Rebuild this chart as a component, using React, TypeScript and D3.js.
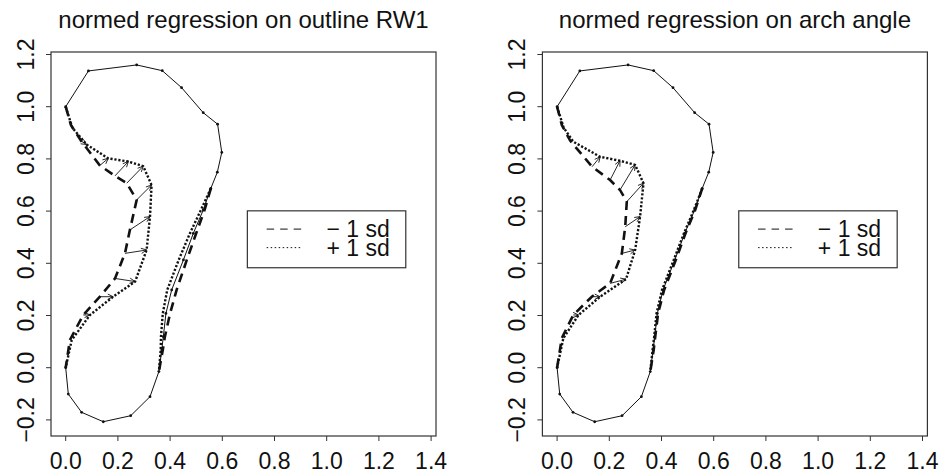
import React from "react";
import * as d3 from "d3";

const W = 947;
const H = 474;

const xTicks = [0, 0.2, 0.4, 0.6, 0.8, 1.0, 1.2, 1.4];
const yTicks = [-0.2, 0, 0.2, 0.4, 0.6, 0.8, 1.0, 1.2];
const titles = ["normed regression on outline RW1", "normed regression on arch angle"];
const legendLabels = ["\u2212 1 sd", "+ 1 sd"];

// mean outline: top arc (shared by both panels)
const topArcX = [0, 0.087, 0.272, 0.37, 0.444, 0.527, 0.582, 0.598, 0.581, 0.556];
const topArcY = [1.0, 1.137, 1.16, 1.138, 1.073, 0.977, 0.933, 0.825, 0.749, 0.687];
// mean outline: bottom arc
const bottomArcX = [0.357, 0.323, 0.249, 0.144, 0.061, 0.01, 0];
const bottomArcY = [-0.015, -0.111, -0.184, -0.207, -0.171, -0.101, 0];
// mean right side
const rightMeanX = [0.556, 0.527, 0.489, 0.451, 0.406, 0.384, 0.374, 0.368, 0.357];
const rightY = [0.687, 0.604, 0.515, 0.413, 0.298, 0.208, 0.119, 0.068, -0.015];

// panel 1 (outline RW1)
const p1RightMinusX = [0.556, 0.532, 0.5, 0.464, 0.425, 0.4, 0.38, 0.372, 0.357];
const p1RightPlusX = [0.556, 0.518, 0.476, 0.433, 0.389, 0.372, 0.365, 0.364, 0.357];
const p1InnerMinusX = [0, 0.02, 0.06, 0.131, 0.189, 0.234, 0.272, 0.246, 0.227, 0.189, 0.131, 0.067, 0.016, 0];
const p1InnerMinusY = [1, 0.93, 0.868, 0.775, 0.735, 0.707, 0.643, 0.528, 0.438, 0.342, 0.272, 0.202, 0.106, 0];
const p1InnerPlusX = [0, 0.025, 0.08, 0.163, 0.24, 0.297, 0.329, 0.323, 0.31, 0.266, 0.182, 0.093, 0.023, 0];
const p1InnerPlusY = [1, 0.92, 0.855, 0.802, 0.79, 0.772, 0.7, 0.579, 0.451, 0.33, 0.272, 0.202, 0.106, 0];

// panel 2 (arch angle)
const p2RightMinusX = [0.556, 0.529, 0.492, 0.455, 0.41, 0.387, 0.376, 0.37, 0.357];
const p2RightPlusX = [0.556, 0.524, 0.486, 0.447, 0.402, 0.381, 0.372, 0.366, 0.357];
const p2InnerMinusX = [0, 0.018, 0.05, 0.134, 0.203, 0.241, 0.267, 0.261, 0.248, 0.203, 0.133, 0.062, 0.018, 0];
const p2InnerMinusY = [1, 0.93, 0.87, 0.77, 0.719, 0.681, 0.636, 0.54, 0.438, 0.323, 0.272, 0.202, 0.113, 0];
const p2InnerPlusX = [0, 0.025, 0.062, 0.165, 0.241, 0.299, 0.331, 0.318, 0.299, 0.264, 0.165, 0.082, 0.024, 0];
const p2InnerPlusY = [1, 0.92, 0.866, 0.808, 0.793, 0.777, 0.707, 0.579, 0.451, 0.339, 0.272, 0.202, 0.113, 0];

const panels = [
  { title: titles[0], rMinus: p1RightMinusX, rPlus: p1RightPlusX, imx: p1InnerMinusX, imy: p1InnerMinusY, ipx: p1InnerPlusX, ipy: p1InnerPlusY, offset: 0 },
  { title: titles[1], rMinus: p2RightMinusX, rPlus: p2RightPlusX, imx: p2InnerMinusX, imy: p2InnerMinusY, ipx: p2InnerPlusX, ipy: p2InnerPlusY, offset: 491.4 },
];

const FONT = "'Liberation Sans', Arial, Helvetica, sans-serif";
const zip = (xs: number[], ys: number[]) => xs.map((x, i) => [x, ys[i]] as [number, number]);
const fmt = (v: number) => (v < 0 ? "\u2212" : "") + Math.abs(v).toFixed(1);

function Panel({ p }: { p: (typeof panels)[0] }) {
  const xs = d3.scaleLinear().domain([0, 1.4]).range([65.7 + p.offset, 431.1 + p.offset]);
  const ys = d3.scaleLinear().domain([-0.2, 1.2]).range([419.9, 54.5]);
  const line = d3.line<[number, number]>().x((d) => xs(d[0])).y((d) => ys(d[1]));

  const boxL = xs(-0.0563), boxR = xs(1.4188), boxT = ys(1.2096), boxB = ys(-0.2617);

  const meanPts = [
    ...zip(topArcX, topArcY),
    ...zip(rightMeanX, rightY).slice(1),
    ...zip(bottomArcX, bottomArcY).slice(1),
  ];
  const minusRight = zip(p.rMinus, rightY);
  const plusRight = zip(p.rPlus, rightY);
  const minusInner = zip(p.imx, p.imy);
  const plusInner = zip(p.ipx, p.ipy);

  const arrows = minusInner
    .map((m, i) => ({ m, q: plusInner[i] }))
    .filter(({ m, q }) => Math.hypot(m[0] - q[0], m[1] - q[1]) > 0.015);

  const lgL = xs(0.696), lgR = xs(1.303), lgT = ys(0.601), lgB = ys(0.383);
  const sx1 = xs(0.77), sx2 = xs(0.904), tx = xs(0.999);
  const row1 = ys(0.531), row2 = ys(0.46);

  return (
    <g>
      <text x={(boxL + boxR) / 2} y={27.5} textAnchor="middle" fontSize={24} fontFamily={FONT} fill="#111">
        {p.title}
      </text>
      <rect x={boxL} y={boxT} width={boxR - boxL} height={boxB - boxT} fill="none" stroke="#333" strokeWidth={1.2} />
      {xTicks.map((t) => (
        <g key={"x" + t}>
          <line x1={xs(t)} x2={xs(t)} y1={boxB} y2={boxB + 5} stroke="#333" strokeWidth={1} />
          <text x={xs(t)} y={469} textAnchor="middle" fontSize={23} fontFamily={FONT} fill="#111">
            {fmt(t)}
          </text>
        </g>
      ))}
      {yTicks.map((t) => (
        <g key={"y" + t}>
          <line x1={boxL} x2={boxL - 5} y1={ys(t)} y2={ys(t)} stroke="#333" strokeWidth={1} />
          <text
            transform={`translate(${p.offset + 33.5},${ys(t)}) rotate(-90)`}
            textAnchor="middle"
            fontSize={23}
            fontFamily={FONT}
            fill="#111"
          >
            {fmt(t)}
          </text>
        </g>
      ))}

      {/* mean outline */}
      <path d={line(meanPts) || ""} fill="none" stroke="#111" strokeWidth={1} />
      {meanPts.map((d, i) => (
        <circle key={"m" + i} cx={xs(d[0])} cy={ys(d[1])} r={1.4} fill="#111" />
      ))}

      {/* -1 sd */}
      <path d={line(minusRight) || ""} fill="none" stroke="#111" strokeWidth={2.6} strokeDasharray="9,6" />
      <path d={line(minusInner) || ""} fill="none" stroke="#111" strokeWidth={2.6} strokeDasharray="9,6" />
      {/* +1 sd */}
      <path d={line(plusRight) || ""} fill="none" stroke="#111" strokeWidth={2.4} strokeDasharray="2.2,1.8" />
      <path d={line(plusInner) || ""} fill="none" stroke="#111" strokeWidth={2.4} strokeDasharray="2.2,1.8" />

      {/* arrows */}
      {arrows.map(({ m, q }, i) => {
        const x1 = xs(m[0]), y1 = ys(m[1]), x2 = xs(q[0]), y2 = ys(q[1]);
        const a = Math.atan2(y2 - y1, x2 - x1);
        const L = 6, ang = Math.PI / 7;
        const h1 = [x2 - L * Math.cos(a - ang), y2 - L * Math.sin(a - ang)];
        const h2 = [x2 - L * Math.cos(a + ang), y2 - L * Math.sin(a + ang)];
        return (
          <g key={"a" + i} stroke="#111" strokeWidth={0.9} fill="none">
            <line x1={x1} y1={y1} x2={x2} y2={y2} />
            <polyline points={`${h1[0]},${h1[1]} ${x2},${y2} ${h2[0]},${h2[1]}`} />
          </g>
        );
      })}

      {/* legend */}
      <rect x={lgL} y={lgT} width={lgR - lgL} height={lgB - lgT} fill="#fff" stroke="#333" strokeWidth={1.2} />
      <line x1={sx1} x2={sx2} y1={row1} y2={row1} stroke="#111" strokeWidth={1} strokeDasharray="7.5,6" />
      <line x1={sx1} x2={sx2} y1={row2} y2={row2} stroke="#111" strokeWidth={1} strokeDasharray="1.5,2.5" />
      <text x={tx} y={row1 + 8} fontSize={23} fontFamily={FONT} fill="#111">
        {legendLabels[0]}
      </text>
      <text x={tx} y={row2 + 8} fontSize={23} fontFamily={FONT} fill="#111">
        {legendLabels[1]}
      </text>
    </g>
  );
}

export default function App() {
  return (
    <svg width={W} height={H} style={{ position: "absolute", left: 0, top: 0, background: "#fff" }}>
      <rect width={W} height={H} fill="#fff" />
      {panels.map((p, i) => (
        <Panel key={i} p={p} />
      ))}
    </svg>
  );
}
